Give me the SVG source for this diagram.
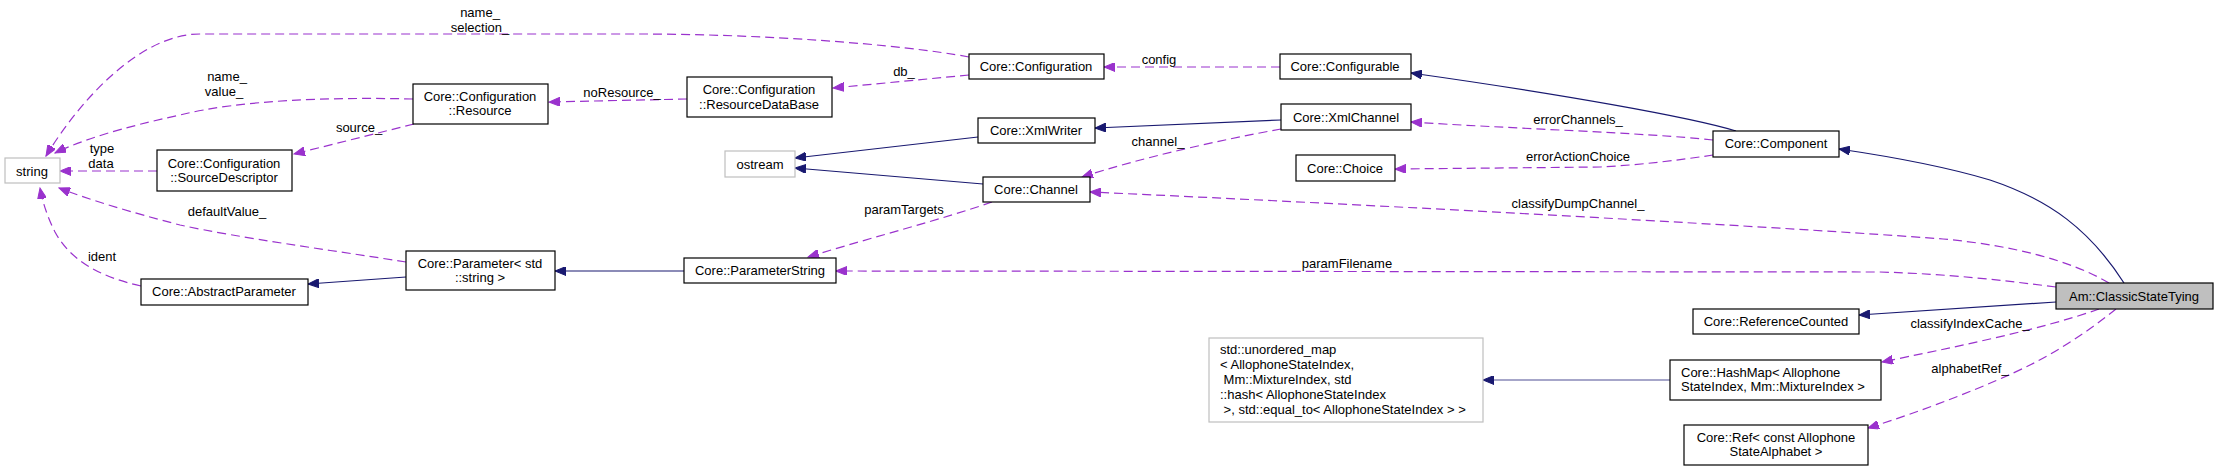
<svg xmlns="http://www.w3.org/2000/svg" width="2219" height="471" viewBox="0 0 2219 471">
<style>
text{font-family:"Liberation Sans",Arial,sans-serif;font-size:13px;fill:#000;white-space:pre}
.c{text-anchor:middle}
.box{fill:#fff;stroke:#000;stroke-width:1.2}
.gbox{fill:#fff;stroke:#bfbfbf;stroke-width:1.2}
.sel{fill:#bfbfbf;stroke:#000;stroke-width:1.2}
.u{fill:none;stroke:#9a32cd;stroke-width:1.2;stroke-dasharray:9,5;marker-end:url(#pa)}
.i{fill:none;stroke:#191970;stroke-width:1.2;marker-end:url(#na)}
</style>
<defs>
<marker id="pa" markerUnits="userSpaceOnUse" markerWidth="12" markerHeight="9" refX="11" refY="4.5" orient="auto"><path d="M0,0 L11,4.5 L0,9 z" fill="#9a32cd" stroke="#9a32cd"/></marker>
<marker id="na" markerUnits="userSpaceOnUse" markerWidth="12" markerHeight="9" refX="11" refY="4.5" orient="auto"><path d="M0,0 L11,4.5 L0,9 z" fill="#191970" stroke="#191970"/></marker>
</defs>
<rect width="2219" height="471" fill="#fff"/>
<g id="connectors">
<path class="u" d="M969,57 C900,44 760,34 640,34 L200,34 C140,34 80,100 46,156"/>
<path class="u" d="M413,99 C330,97 240,100 180,115 C120,128 82,140 55,153"/>
<path class="u" d="M157,171 L60,171"/>
<path class="u" d="M414,124 L294,154"/>
<path class="u" d="M687,99 L549,102"/>
<path class="u" d="M969,75 L833,88"/>
<path class="u" d="M1280,67 L1104,67"/>
<path class="i" d="M978,137 L795,158"/>
<path class="i" d="M983,184 L795,168"/>
<path class="i" d="M1281,120 L1095,128"/>
<path class="u" d="M1281,129 C1220,140 1140,158 1082,177"/>
<path class="i" d="M1736,131 C1690,117 1560,94 1411,73"/>
<path class="u" d="M1713,140 C1650,133 1500,128 1411,122"/>
<path class="u" d="M1713,155 C1680,160 1640,165 1600,167 L1395,169"/>
<path class="i" d="M2124,283 C2090,230 2050,200 1990,180 C1940,165 1880,155 1839,149"/>
<path class="u" d="M2109,283 C2070,260 2010,245 1943,239 C1800,228 1400,206 1090,192"/>
<path class="u" d="M2056,287 C2000,280 1950,274 1880,272 L836,271"/>
<path class="i" d="M2056,302 L1859,315"/>
<path class="u" d="M2099,309 C2040,330 1950,348 1882,362"/>
<path class="u" d="M2116,309 C2090,330 2060,350 2030,365 C1990,385 1920,412 1868,428"/>
<path class="i" d="M1670,380 L1483,380" style="stroke:#4f4f93"/>
<path class="i" d="M684,271 L555,271"/>
<path class="i" d="M406,277 L308,284"/>
<path class="u" d="M406,262 C330,250 240,238 180,225 C130,212 90,200 59,188"/>
<path class="u" d="M141,286 C100,277 70,260 55,232 C48,218 43,204 40,188"/>
<path class="u" d="M992,202 C940,220 880,235 808,257"/>
</g>
<g id="labels">
<text class="c" x="480" y="16.5">name_</text>
<text class="c" x="480" y="31.5">selection_</text>
<text class="c" x="227" y="80.5">name_</text>
<text class="c" x="224" y="95.5">value_</text>
<text class="c" x="359" y="131.5">source_</text>
<text class="c" x="102" y="152.5">type</text>
<text class="c" x="101" y="167.5">data</text>
<text class="c" x="227" y="215.5">defaultValue_</text>
<text class="c" x="102" y="260.5">ident</text>
<text class="c" x="622" y="96.5">noResource_</text>
<text class="c" x="904" y="75.5">db_</text>
<text class="c" x="1159" y="63.5">config</text>
<text class="c" x="1158" y="145.5">channel_</text>
<text class="c" x="904" y="213.5">paramTargets</text>
<text class="c" x="1578" y="123.5">errorChannels_</text>
<text class="c" x="1578" y="160.5">errorActionChoice</text>
<text class="c" x="1578" y="207.5">classifyDumpChannel_</text>
<text class="c" x="1347" y="267.5">paramFilename</text>
<text class="c" x="1970" y="327.5">classifyIndexCache_</text>
<text class="c" x="1970" y="372.5">alphabetRef_</text>
</g>
<g id="n_string"><rect class="gbox" x="5" y="158" width="55" height="25"/><text class="c" x="32" y="175.5">string</text></g>
<g id="n_resource"><rect class="box" x="413" y="84" width="135" height="40"/><text class="c" x="480" y="100.5">Core::Configuration</text><text class="c" x="480" y="114.5">::Resource</text></g>
<g id="n_sourcedesc"><rect class="box" x="157" y="150" width="135" height="41"/><text class="c" x="224" y="167.5">Core::Configuration</text><text class="c" x="224" y="181.5">::SourceDescriptor</text></g>
<g id="n_abstractparam"><rect class="box" x="141" y="279" width="167" height="26"/><text class="c" x="224" y="296">Core::AbstractParameter</text></g>
<g id="n_param"><rect class="box" x="406" y="251" width="149" height="39"/><text class="c" x="480" y="267.5">Core::Parameter&lt; std</text><text class="c" x="480" y="281.5">::string &gt;</text></g>
<g id="n_rdb"><rect class="box" x="687" y="77" width="145" height="40"/><text class="c" x="759" y="93.5">Core::Configuration</text><text class="c" x="759" y="108.5">::ResourceDataBase</text></g>
<g id="n_configuration"><rect class="box" x="969" y="54" width="135" height="25"/><text class="c" x="1036" y="70.5">Core::Configuration</text></g>
<g id="n_configurable"><rect class="box" x="1280" y="54" width="131" height="25"/><text class="c" x="1345" y="70.5">Core::Configurable</text></g>
<g id="n_ostream"><rect class="gbox" x="725" y="151" width="70" height="26"/><text class="c" x="760" y="168.5">ostream</text></g>
<g id="n_xmlwriter"><rect class="box" x="978" y="118" width="117" height="25"/><text class="c" x="1036" y="134.5">Core::XmlWriter</text></g>
<g id="n_channel"><rect class="box" x="983" y="177" width="107" height="25"/><text class="c" x="1036" y="193.5">Core::Channel</text></g>
<g id="n_xmlchannel"><rect class="box" x="1281" y="104" width="130" height="26"/><text class="c" x="1346" y="121.5">Core::XmlChannel</text></g>
<g id="n_choice"><rect class="box" x="1296" y="155" width="99" height="26"/><text class="c" x="1345" y="172.5">Core::Choice</text></g>
<g id="n_component"><rect class="box" x="1713" y="131" width="126" height="26"/><text class="c" x="1776" y="148">Core::Component</text></g>
<g id="n_paramstring"><rect class="box" x="684" y="258" width="152" height="25"/><text class="c" x="760" y="274.5">Core::ParameterString</text></g>
<g id="n_cst"><rect class="sel" x="2056" y="283" width="157" height="26"/><text class="c" x="2134" y="300.5">Am::ClassicStateTying</text></g>
<g id="n_refcounted"><rect class="box" x="1693" y="309" width="166" height="25"/><text class="c" x="1776" y="325.5">Core::ReferenceCounted</text></g>
<g id="n_umap"><rect class="gbox" x="1209" y="338" width="274" height="84"/><text x="1220" y="353.5">std::unordered_map</text><text x="1220" y="368.5">&lt; AllophoneStateIndex,</text><text x="1220" y="383.5"> Mm::MixtureIndex, std</text><text x="1220" y="398.5">::hash&lt; AllophoneStateIndex</text><text x="1220" y="413.5"> &gt;, std::equal_to&lt; AllophoneStateIndex &gt; &gt;</text></g>
<g id="n_hashmap"><rect class="box" x="1670" y="360" width="211" height="40"/><text x="1681" y="376.5">Core::HashMap&lt; Allophone</text><text x="1681" y="390.5">StateIndex, Mm::MixtureIndex &gt;</text></g>
<g id="n_ref"><rect class="box" x="1684" y="425" width="184" height="40"/><text class="c" x="1776" y="441.5">Core::Ref&lt; const Allophone</text><text class="c" x="1776" y="455.5">StateAlphabet &gt;</text></g>
</svg>
